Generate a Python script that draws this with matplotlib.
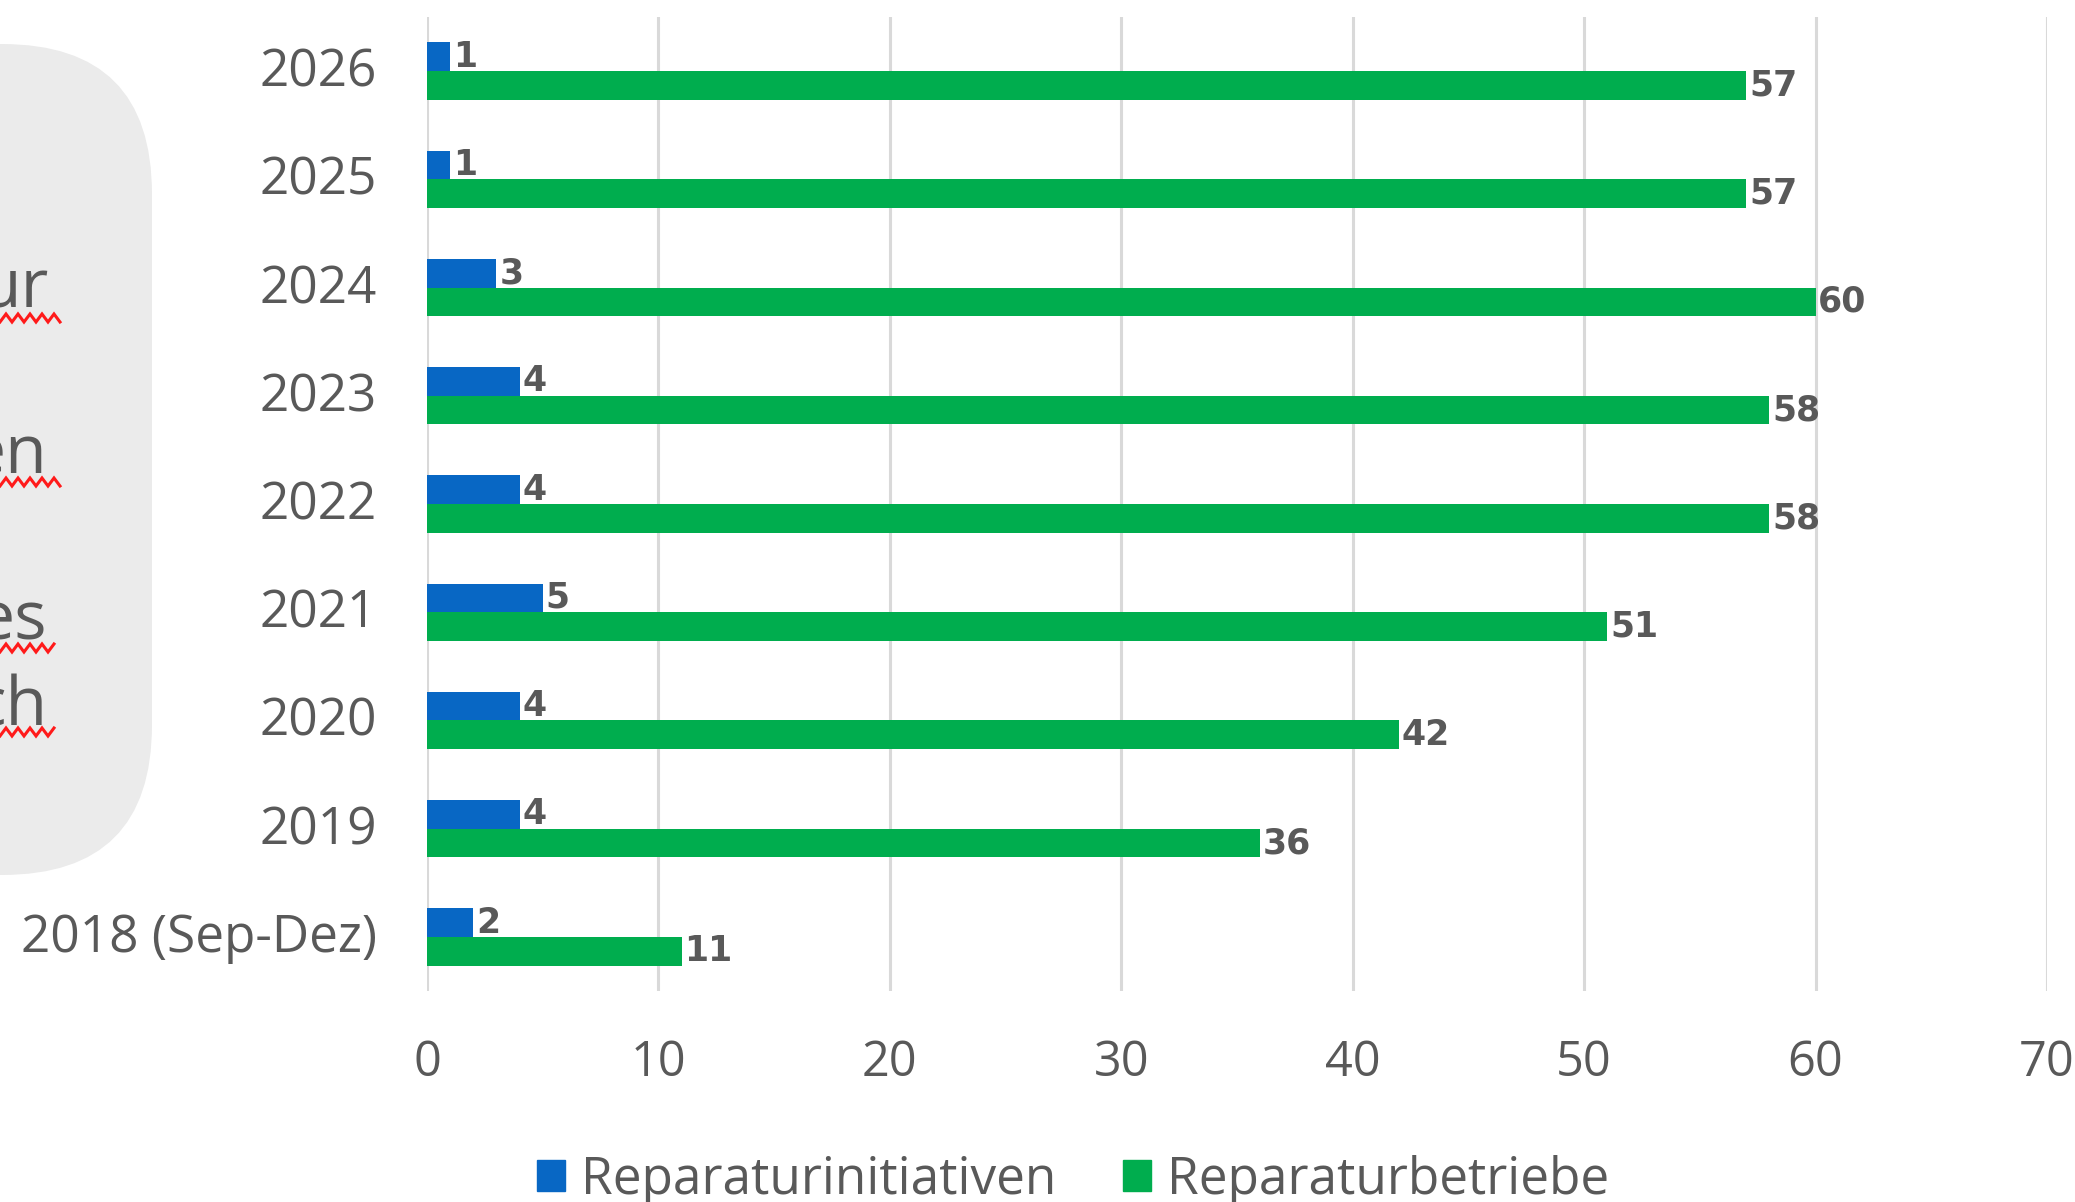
import numpy as np
import matplotlib
matplotlib.use("Agg")
import matplotlib.pyplot as plt
import matplotlib.transforms as mtransforms
from matplotlib.patches import FancyBboxPatch, Patch

# ---------------- data ----------------
categories = ["2018 (Sep-Dez)", "2019", "2020", "2021", "2022", "2023", "2024", "2025", "2026"]
initiativen = [2, 4, 4, 5, 4, 4, 3, 1, 1]
betriebe = [11, 36, 42, 51, 58, 58, 60, 57, 57]
series_names = ["Reparaturinitiativen", "Reparaturbetriebe"]
x_ticks = [0, 10, 20, 30, 40, 50, 60, 70]
side_words = ["ur", "en", "es", "ch"]

BLUE = "#0867C4"
GREEN = "#00AD4E"
TXT = "#595959"
GRID = "#D9D9D9"
BOX = "#EBEBEB"

W, H = 2075, 1202
fig = plt.figure(figsize=(W / 100, H / 100), dpi=100)
fig.patch.set_facecolor("white")

# ---------- background layer in pixel coordinates ----------
bg = fig.add_axes([0, 0, 1, 1], zorder=0)
bg.set_xlim(0, W)
bg.set_ylim(H, 0)
bg.axis("off")
box = FancyBboxPatch((-400, 44), 552, 831,
                     boxstyle="round,pad=0,rounding_size=150",
                     facecolor=BOX, edgecolor="none")
bg.add_patch(box)

word_pos = [(49, 308, 62, 318), (47, 473, 62, 482), (47, 640, 55, 648), (47, 725, 55, 732)]
for w, (xr, yb, xend, ysq) in zip(side_words, word_pos):
    bg.text(xr, yb, w, ha="right", va="baseline", fontsize=49,
            family="Open Sans", color=TXT)
    xs = np.arange(0, xend + 0.1, 6.0)
    ys = ysq + np.where(np.arange(len(xs)) % 2 == 0, 4, -4)
    bg.plot(xs, ys, color="#FF1A1A", lw=2.2, solid_joinstyle="miter")

# ---------------- main chart ----------------
ax = fig.add_axes([427 / W, 1 - 991 / H, (2047 - 427) / W, (991 - 17) / H], zorder=1)
ax.set_facecolor("none")
y = np.arange(len(categories))
h = 0.265
bars_i = ax.barh(y + h / 2, initiativen, height=h, color=BLUE, zorder=3, label=series_names[0])
bars_b = ax.barh(y - h / 2, betriebe, height=h, color=GREEN, zorder=3, label=series_names[1])

for bars in (bars_i, bars_b):
    ax.bar_label(bars, padding=2, fontsize=25, fontweight="bold",
                 family="DejaVu Sans", color=TXT)

ax.set_xlim(0, 70)
ax.set_ylim(-0.5, len(categories) - 0.5)
ax.set_xticks(x_ticks)
ax.set_xticklabels([str(t) for t in x_ticks])
ax.set_yticks(y)
ax.set_yticklabels(categories)
ax.tick_params(axis="both", length=0, labelcolor=TXT)
ax.tick_params(axis="x", pad=34, labelsize=35)
ax.tick_params(axis="y", pad=36, labelsize=37)
for lab in ax.get_xticklabels() + ax.get_yticklabels():
    lab.set_family("Open Sans")
shift = mtransforms.ScaledTranslation(0, 4 / 100, fig.dpi_scale_trans)
for lab in ax.get_yticklabels():
    lab.set_transform(lab.get_transform() + shift)
ax.grid(axis="x", color=GRID, lw=2.2, zorder=0)
ax.set_axisbelow(True)
for s in ax.spines.values():
    s.set_visible(False)

handles = [Patch(color=BLUE, label=series_names[0]), Patch(color=GREEN, label=series_names[1])]
leg = fig.legend(handles=handles, loc="center", bbox_to_anchor=(1073 / W, 1 - 1180 / H),
                 ncol=2, frameon=False, handlelength=0.55, handleheight=0.55,
                 handletextpad=0.3, columnspacing=1.3, prop={"family": "Open Sans", "size": 37})
for t in leg.get_texts():
    t.set_color(TXT)

fig.savefig("out.png", dpi=100, facecolor="white")
